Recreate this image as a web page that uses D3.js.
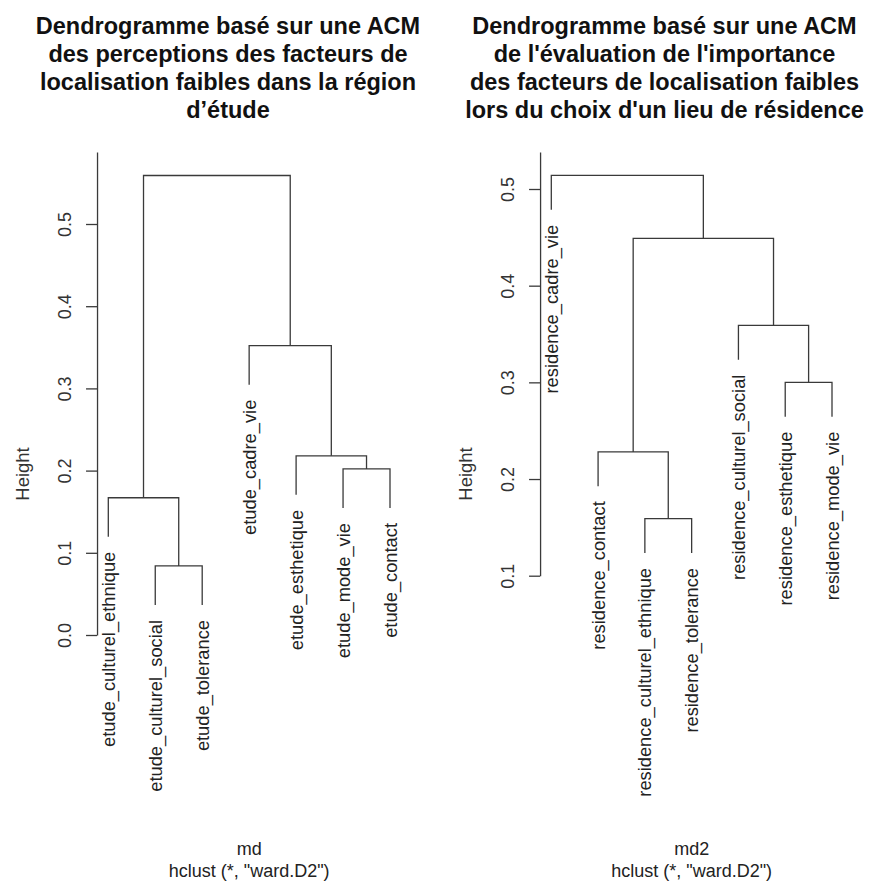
<!DOCTYPE html>
<html>
<head>
<meta charset="utf-8">
<script src="https://cdn.jsdelivr.net/npm/d3@7"></script>
<style>
  body { margin: 0; background: #fff; }
  svg { display: block; font-family: "Liberation Sans", Arial, sans-serif; }
</style>
</head>
<body>
<svg width="871" height="881"></svg>
<script>
// left dendrogram (md)
const labels1 = ["etude_culturel_ethnique", "etude_culturel_social", "etude_tolerance",
  "etude_cadre_vie", "etude_esthetique", "etude_mode_vie", "etude_contact"];
// R-style merge matrix: negative = leaf (1-based, in plotting order), positive = earlier merge
const merges1 = [[-2, -3], [-1, 1], [-6, -7], [-5, 3], [-4, 4], [2, 5]];
const heights1 = [0.084, 0.167, 0.202, 0.218, 0.352, 0.559];
const ticks1 = [0.0, 0.1, 0.2, 0.3, 0.4, 0.5];
const title1 = ["Dendrogramme basé sur une ACM", "des perceptions des facteurs de",
  "localisation faibles dans la région", "d’étude"];

// right dendrogram (md2)
const labels2 = ["residence_cadre_vie", "residence_contact", "residence_culturel_ethnique",
  "residence_tolerance", "residence_culturel_social", "residence_esthetique", "residence_mode_vie"];
const merges2 = [[-3, -4], [-2, 1], [-6, -7], [-5, 3], [2, 4], [-1, 5]];
const heights2 = [0.159, 0.228, 0.300, 0.359, 0.449, 0.514];
const ticks2 = [0.1, 0.2, 0.3, 0.4, 0.5];
const title2 = ["Dendrogramme basé sur une ACM", "de l'évaluation de l'importance",
  "des facteurs de localisation faibles", "lors du choix d'un lieu de résidence"];

const svg = d3.select("svg");
svg.append("rect").attr("width", 871).attr("height", 881).attr("fill", "#fff");

const plotTop = 152, plotBottom = 796;
const lineColor = "#3a3a3a";

function drawPanel(p) {
  const g = svg.append("g");
  const n = p.labels.length;

  const x = d3.scaleLinear().domain([1, n]).range(p.xRange);
  const y = d3.scaleLinear().domain(p.yDomain).range(p.yRange);
  const plotLeft = x(1 - 0.04 * (n - 1)), plotRight = x(n + 0.04 * (n - 1));
  const cx = (plotLeft + plotRight) / 2;

  // title
  g.append("text")
    .attr("x", p.titleX).attr("y", 33.5)
    .attr("text-anchor", "middle")
    .attr("font-weight", "bold").attr("font-size", 23.5).attr("fill", "#111")
    .selectAll("tspan").data(p.title).join("tspan")
      .attr("x", p.titleX).attr("dy", (d, i) => i === 0 ? 0 : 28.3)
      .text(d => d);

  // y axis: line runs from the lowest tick up to the top of the plot region
  const axisScale = y.copy().domain([p.ticks[0], y.invert(plotTop)]).range([y(p.ticks[0]), plotTop]);
  const ax = g.append("g")
    .attr("transform", `translate(${plotLeft},0)`)
    .call(d3.axisLeft(axisScale).tickValues(p.ticks).tickSize(11).tickSizeOuter(0)
      .tickFormat(d3.format(".1f")));
  ax.select(".domain").attr("stroke", lineColor).attr("stroke-width", 1.3);
  ax.selectAll(".tick line").attr("stroke", lineColor).attr("stroke-width", 1.3);
  ax.selectAll(".tick text")
    .attr("transform", "rotate(-90)")
    .attr("x", 0).attr("y", -33).attr("dy", "0.36em")
    .attr("text-anchor", "middle")
    .attr("font-size", 18).attr("fill", "#333")
    .attr("font-family", "Liberation Sans, Arial, sans-serif");

  g.append("text")
    .attr("transform", `translate(${plotLeft - 75},${(plotTop + plotBottom) / 2}) rotate(-90)`)
    .attr("text-anchor", "middle").attr("dy", "0.36em")
    .attr("font-size", 18.5).attr("fill", "#333")
    .text("Height");

  // dendrogram layout: node x = midpoint of its two children
  const hang = 0.1 * (d3.max(p.heights) - d3.min(p.heights));
  const nodeX = [];
  const pos = (c, parentH) => c < 0
    ? { x: -c, h: parentH - hang, leaf: -c }
    : { x: nodeX[c - 1], h: p.heights[c - 1] };
  const leafEnds = [];
  p.merges.forEach((m, i) => {
    const h = p.heights[i];
    const a = pos(m[0], h), b = pos(m[1], h);
    nodeX[i] = (a.x + b.x) / 2;
    [a, b].forEach(c => { if (c.leaf) leafEnds.push(c); });
    const path = d3.path();
    path.moveTo(x(a.x), y(a.h));
    path.lineTo(x(a.x), y(h));
    path.lineTo(x(b.x), y(h));
    path.lineTo(x(b.x), y(b.h));
    g.append("path").attr("d", path.toString())
      .attr("fill", "none").attr("stroke", lineColor).attr("stroke-width", 1.3);
  });

  // leaf labels, rotated, hanging below each leaf end
  g.selectAll(".leaf").data(leafEnds).join("text")
    .attr("class", "leaf")
    .attr("transform", d => `translate(${x(d.x)},${y(d.h) + 15}) rotate(-90)`)
    .attr("text-anchor", "end").attr("dy", "0.36em")
    .attr("font-size", 18.3).attr("fill", "#222")
    .text(d => p.labels[d.leaf - 1]);

  // sub labels
  g.append("text").attr("x", cx).attr("y", 855)
    .attr("text-anchor", "middle").attr("font-size", 18).attr("fill", "#222")
    .text(p.xlab);
  g.append("text").attr("x", cx).attr("y", 876.7)
    .attr("text-anchor", "middle").attr("font-size", 18).attr("fill", "#222")
    .text('hclust (*, "ward.D2")');
}

drawPanel({
  labels: labels1, merges: merges1, heights: heights1, ticks: ticks1, title: title1,
  xlab: "md", titleX: 228, xRange: [108.3, 390], yDomain: [0, 0.5], yRange: [635, 224]
});
drawPanel({
  labels: labels2, merges: merges2, heights: heights2, ticks: ticks2, title: title2,
  xlab: "md2", titleX: 664.5, xRange: [551.3, 832], yDomain: [0.1, 0.5], yRange: [575.7, 189]
});
</script>
</body>
</html>
